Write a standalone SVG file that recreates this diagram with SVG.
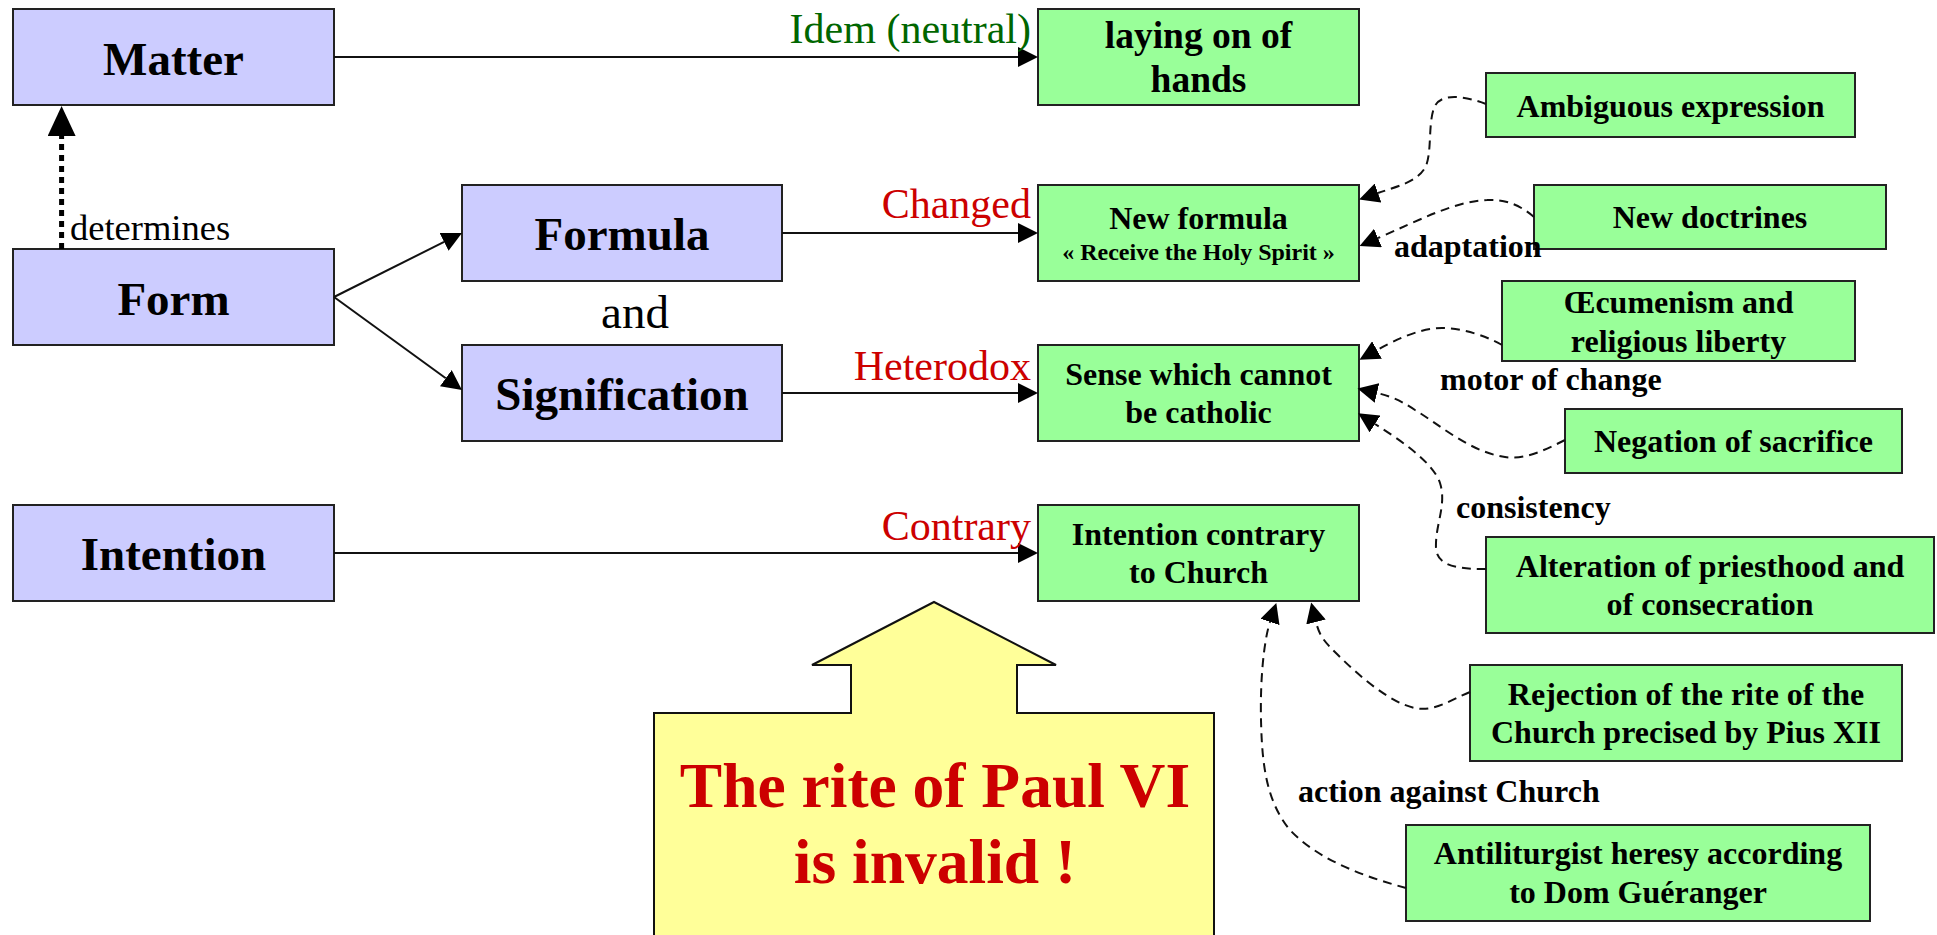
<svg xmlns="http://www.w3.org/2000/svg" width="1937" height="935" viewBox="0 0 1937 935">
<style>
.blue{fill:#CCCCFF;stroke:#222;stroke-width:2}
.green{fill:#99FF99;stroke:#222;stroke-width:2}
.t{font-family:"Liberation Serif","Times New Roman",serif;text-anchor:middle;fill:#000}
.big{font-size:47px;font-weight:bold}
.g{font-size:32px;font-weight:bold}
.el{font-family:"Liberation Serif","Times New Roman",serif;font-size:42px;text-anchor:end}
.dl{font-family:"Liberation Serif","Times New Roman",serif;font-size:32px;font-weight:bold;fill:#000}
.solid{fill:none;stroke:#111;stroke-width:2;marker-end:url(#ah)}
.dash{fill:none;stroke:#111;stroke-width:2;stroke-dasharray:9 6;marker-end:url(#ah)}
</style>
<defs>
<marker id="ah" markerUnits="userSpaceOnUse" markerWidth="20" markerHeight="20" viewBox="0 0 20 20" refX="0" refY="10" orient="auto"><path d="M0,0 L20,10 L0,20 z" fill="#000"/></marker>
<marker id="ahBig" markerUnits="userSpaceOnUse" markerWidth="30" markerHeight="28" viewBox="0 0 30 28" refX="0" refY="14" orient="auto"><path d="M0,0 L30,14 L0,28 z" fill="#000"/></marker>
</defs>
<rect width="1937" height="935" fill="#fff"/>

<g id="matter"><rect class="blue" x="13" y="9" width="321" height="96"/><text class="t big" x="173.5" y="74.5">Matter</text></g>
<g id="form"><rect class="blue" x="13" y="249" width="321" height="96"/><text class="t big" x="173.5" y="314.5">Form</text></g>
<g id="intention"><rect class="blue" x="13" y="505" width="321" height="96"/><text class="t big" x="173.5" y="570">Intention</text></g>
<g id="formula"><rect class="blue" x="462" y="185" width="320" height="96"/><text class="t big" x="622" y="250">Formula</text></g>
<g id="signification"><rect class="blue" x="462" y="345" width="320" height="96"/><text class="t big" x="622" y="410">Signification</text></g>
<text id="and" class="t" x="635" y="328" font-size="47">and</text>

<g id="laying"><rect class="green" x="1038" y="9" width="321" height="96"/><text class="t" x="1198.5" font-size="37.5" font-weight="bold"><tspan x="1198.5" y="48.3">laying on of</tspan><tspan x="1198.5" y="91.7">hands</tspan></text></g>
<g id="newformula"><rect class="green" x="1038" y="185" width="321" height="96"/><text class="t g" x="1198.5" y="229">New formula</text><text class="t" x="1198.5" y="260" font-size="24" font-weight="bold">« Receive the Holy Spirit »</text></g>
<g id="sense"><rect class="green" x="1038" y="345" width="321" height="96"/><text class="t g"><tspan x="1198.5" y="385">Sense which cannot</tspan><tspan x="1198.5" y="422.7">be catholic</tspan></text></g>
<g id="intcontrary"><rect class="green" x="1038" y="505" width="321" height="96"/><text class="t g"><tspan x="1198.5" y="545">Intention contrary</tspan><tspan x="1198.5" y="583.3">to Church</tspan></text></g>
<g id="ambiguous"><rect class="green" x="1486" y="73" width="369" height="64"/><text class="t g" x="1670.5" y="116.7">Ambiguous expression</text></g>
<g id="newdoctrines"><rect class="green" x="1534" y="185" width="352" height="64"/><text class="t g" x="1710" y="228">New doctrines</text></g>
<g id="oecumenism"><rect class="green" x="1502" y="281" width="353" height="80"/><text class="t g"><tspan x="1678.5" y="313">Œcumenism and</tspan><tspan x="1678.5" y="351.7">religious liberty</tspan></text></g>
<g id="negation"><rect class="green" x="1565" y="409" width="337" height="64"/><text class="t g" x="1733.5" y="451.7">Negation of sacrifice</text></g>
<g id="alteration"><rect class="green" x="1486" y="537" width="448" height="96"/><text class="t g"><tspan x="1710" y="576.7">Alteration of priesthood and</tspan><tspan x="1710" y="615">of consecration</tspan></text></g>
<g id="rejection"><rect class="green" x="1470" y="665" width="432" height="96"/><text class="t g"><tspan x="1686" y="705">Rejection of the rite of the</tspan><tspan x="1686" y="743.3">Church precised by Pius XII</tspan></text></g>
<g id="antiliturgist"><rect class="green" x="1406" y="825" width="464" height="96"/><text class="t g"><tspan x="1638" y="864">Antiliturgist heresy according</tspan><tspan x="1638" y="902.7">to Dom Guéranger</tspan></text></g>

<g id="conclusion"><path d="M934,602 L1056,665 L1017,665 L1017,713 L1214,713 L1214,945 L654,945 L654,713 L851,713 L851,665 L812,665 Z" fill="#FFFF99" stroke="#111" stroke-width="2"/><text class="t" font-size="63.5" font-weight="bold" fill="#CC0000" style="fill:#CC0000"><tspan x="935" y="806.7">The rite of Paul VI</tspan><tspan x="935" y="883.3">is invalid !</tspan></text></g>

<g id="connectors">
<path class="solid" d="M334,57 H1018"/>
<path class="solid" d="M782,233 H1018"/>
<path class="solid" d="M782,393 H1018"/>
<path class="solid" d="M334,553 H1018"/>
<path class="solid" d="M334,297 L444.1,241.9"/>
<path class="solid" d="M334,297 L445.8,378.2"/>
<path d="M61.6,249 V136" fill="none" stroke="#000" stroke-width="5" stroke-dasharray="6 5" marker-end="url(#ahBig)"/>
<path class="dash" d="M1486,104 C1465,96 1440,92 1434,108 C1428,125 1432,150 1426,166 C1418,182 1398,186 1378,193"/>
<path class="dash" d="M1534,217 C1520,205 1505,199 1487,200 C1455,201 1420,220 1378,238"/>
<path class="dash" d="M1502,345 C1490,338 1465,328 1442,328 C1420,328 1395,340 1377,350"/>
<path class="dash" d="M1565,440 C1545,450 1525,460 1505,457 C1470,452 1440,425 1415,410 C1400,400 1390,396 1377,393"/>
<path class="dash" d="M1486,569 C1460,569 1437,567 1436,548 C1435,525 1447,505 1440,483 C1433,462 1400,440 1375,424"/>
<path class="dash" d="M1470,692 C1450,700 1435,712 1415,708 C1390,703 1358,675 1338,655 C1326,643 1320,638 1316,622"/>
<path class="dash" d="M1406,888 C1370,878 1320,862 1290,830 C1265,800 1262,760 1261,720 C1260,680 1264,640 1270,622"/>
<text x="70" y="240" font-family="Liberation Serif, Times New Roman, serif" font-size="36.5">determines</text>
<text class="el" x="1031" y="43.3" fill="#006600">Idem (neutral)</text>
<text class="el" x="1031" y="218" fill="#CC0000">Changed</text>
<text class="el" x="1031" y="380" fill="#CC0000">Heterodox</text>
<text class="el" x="1031" y="540" fill="#CC0000">Contrary</text>
<text class="dl" x="1394" y="256.7">adaptation</text>
<text class="dl" x="1440" y="390">motor of change</text>
<text class="dl" x="1456" y="518">consistency</text>
<text class="dl" x="1298" y="802">action against Church</text>
</g>
</svg>
